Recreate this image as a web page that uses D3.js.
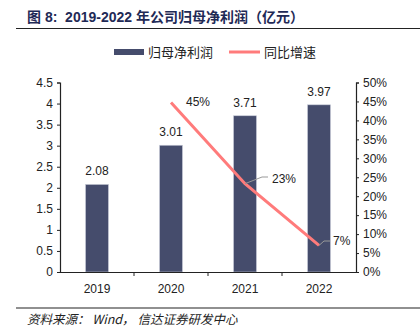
<!DOCTYPE html>
<html><head><meta charset="utf-8">
<script src="https://cdn.jsdelivr.net/npm/d3@7"></script>
<style>body{margin:0;background:#fff}svg{display:block}</style>
</head><body>
<script>
const categories = ["2019","2020","2021","2022"];
const profit = [2.08, 3.01, 3.71, 3.97];
const growth = [null, 44.7, 23.3, 7.0];
const growthLabels = [null, "45%", "23%", "7%"];
const leftTicks = [0,0.5,1,1.5,2,2.5,3,3.5,4,4.5];
const rightTicks = [0,5,10,15,20,25,30,35,40,45,50];

const W=420,H=329;
const svg=d3.select("body").append("svg").attr("width",W).attr("height",H);
const font="'Liberation Sans', Arial, 'Noto Sans CJK SC', sans-serif";
const cjk="'Noto Sans CJK SC', 'Liberation Sans', sans-serif";

// title
svg.append("text").attr("x",27).attr("y",22).attr("font-family",font).attr("font-size",14).attr("font-weight","bold")
  .attr("fill","#1f2a56").attr("xml:space","preserve").style("white-space","pre").text("图 8:  2019-2022 年公司归母净利润（亿元）");
svg.append("line").attr("x1",16).attr("x2",420).attr("y1",28.5).attr("y2",28.5).attr("stroke","#222").attr("stroke-width",1.2);

// legend
svg.append("rect").attr("x",114).attr("y",49).attr("width",30).attr("height",6).attr("fill","#454c6c");
svg.append("text").attr("x",148).attr("y",57).attr("font-family",cjk).attr("font-size",13).attr("fill","#222").text("归母净利润");
svg.append("line").attr("x1",229).attr("x2",260).attr("y1",52).attr("y2",52).attr("stroke","#ff7b7b").attr("stroke-width",3);
svg.append("text").attr("x",264).attr("y",57).attr("font-family",cjk).attr("font-size",13).attr("fill","#222").text("同比增速");

const x=d3.scaleBand().domain(categories).range([60,356]).paddingInner(0.69).paddingOuter(0.345);
const xb=d3.scaleBand().domain(categories).range([60,356]);
const yL=d3.scaleLinear().domain([0,4.5]).range([272,82.5]);
const yR=d3.scaleLinear().domain([0,50]).range([272,82.5]);

// bars
svg.selectAll(".bar").data(profit).join("rect")
  .attr("x",(d,i)=>x(categories[i])).attr("y",d=>yL(d))
  .attr("width",x.bandwidth()).attr("height",d=>yL(0)-yL(d))
  .attr("fill","#454c6c").attr("stroke","#c8ccd8").attr("stroke-width",0.6);
svg.selectAll(".bl").data(profit).join("text")
  .attr("x",(d,i)=>x(categories[i])+x.bandwidth()/2).attr("y",d=>yL(d)-9)
  .attr("text-anchor","middle").attr("font-family",font).attr("font-size",12).attr("fill","#222")
  .text(d=>d.toFixed(2));

// axes
const axL=svg.append("g").attr("transform","translate(60,0)")
  .call(d3.axisLeft(yL).tickValues(leftTicks).tickSize(3).tickFormat(d=>d));
const axR=svg.append("g").attr("transform","translate(356,0)")
  .call(d3.axisRight(yR).tickValues(rightTicks).tickSize(3).tickFormat(d=>d+"%"));
const axX=svg.append("g").attr("transform","translate(0,272)")
  .call(d3.axisBottom(xb).tickSize(0).tickPadding(12));
[axL,axR,axX].forEach(g=>{
  g.select(".domain").attr("stroke","#222").attr("stroke-width",1.2);
  g.selectAll(".tick line").attr("stroke","#222");
  g.selectAll("text").attr("font-family",font).attr("font-size",12).attr("fill","#222");
});
axL.selectAll("text").attr("dx",-1);
axR.selectAll("text").attr("dx",1);
// category boundary ticks
const bounds=categories.slice(1).map(c=>xb(c));
svg.selectAll(".bt").data(bounds).join("line").attr("x1",d=>d).attr("x2",d=>d).attr("y1",272).attr("y2",276).attr("stroke","#222");

// growth line
const pts=growth.map((g,i)=>({g,i})).filter(d=>d.g!==null);
const cx=i=>xb(categories[i])+xb.bandwidth()/2;
svg.append("path").datum(pts)
  .attr("d",d3.line().x(d=>cx(d.i)).y(d=>yR(d.g)))
  .attr("fill","none").attr("stroke","#ff7b7b").attr("stroke-width",3);

// growth labels
const lab=[
  {i:1, lx:null, ly:null, tx:186, ty:106},
  {i:2, lx:268, ly:177, tx:272, ty:183},
  {i:3, lx:330, ly:241, tx:333, ty:245}
];
lab.forEach(l=>{
  const px=cx(l.i), py=yR(growth[l.i]);
  if(l.lx!==null){
    svg.append("polyline").attr("points",`${px},${py} ${l.lx-6},${l.ly} ${l.lx},${l.ly}`)
      .attr("fill","none").attr("stroke","#999").attr("stroke-width",1);
  }
  svg.append("text").attr("x",l.tx).attr("y",l.ty).attr("font-family",font).attr("font-size",12).attr("fill","#222").text(growthLabels[l.i]);
});

// footer
svg.append("line").attr("x1",16).attr("x2",420).attr("y1",308).attr("y2",308).attr("stroke","#222").attr("stroke-width",1.2);
svg.append("text").attr("x",27).attr("y",324).attr("font-family",cjk).attr("font-size",12.5).attr("font-style","italic").attr("fill","#222").style("white-space","pre").text("资料来源： Wind， 信达证券研发中心");
</script>
</body></html>
